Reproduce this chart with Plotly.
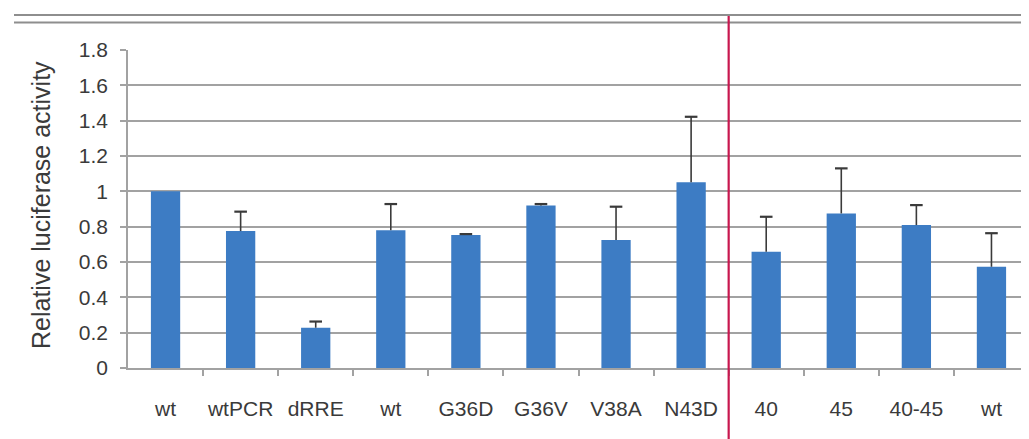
import plotly.graph_objects as go

categories = ["wt", "wtPCR", "dRRE", "wt", "G36D", "G36V", "V38A", "N43D", "40", "45", "40-45", "wt"]
values = [1.0, 0.775, 0.228, 0.78, 0.753, 0.92, 0.724, 1.051, 0.658, 0.875, 0.809, 0.573]
errors = [0.0, 0.11, 0.035, 0.148, 0.005, 0.008, 0.189, 0.371, 0.198, 0.255, 0.113, 0.19]
y_ticks = [0, 0.2, 0.4, 0.6, 0.8, 1, 1.2, 1.4, 1.6, 1.8]
y_tick_text = ["0", "0.2", "0.4", "0.6", "0.8", "1", "1.2", "1.4", "1.6", "1.8"]

positions = list(range(len(categories)))
divider_after = 7  # red line between N43D and 40

# page body has an 8px default margin; size the figure to fill the rest
OFF = 8
W, H = 1029 - OFF, 439 - OFF
L, R, T, B = 128 - OFF, 0, 50 - OFF, 71
pw, ph = W - L - R, H - T - B

font = "Liberation Sans, Arial, sans-serif"
txt = "#3a3a3a"
grid = "#a2a2a2"
err_col = "#3a3a3a"

fig = go.Figure()
fig.add_trace(go.Bar(
    x=positions, y=values,
    marker=dict(color="#3d7cc4", line=dict(width=0)),
    width=0.39,
))

# upper-only error bars (stem + top cap), built from the data arrays
ex, ey, cx, cy = [], [], [], []
for p, v, e in zip(positions, values, errors):
    if e <= 0:
        continue
    ex += [p, p, None]
    ey += [v, v + e, None]
    cx.append(p)
    cy.append(v + e)
fig.add_trace(go.Scatter(x=ex, y=ey, mode="lines",
                         line=dict(color=err_col, width=1.6),
                         hoverinfo="skip"))
fig.add_trace(go.Scatter(x=cx, y=cy, mode="markers",
                         marker=dict(symbol="line-ew", size=9,
                                     line=dict(color=err_col, width=2.2)),
                         hoverinfo="skip"))

fig.update_layout(
    width=W, height=H,
    margin=dict(l=L, r=R, t=T, b=B, pad=0),
    paper_bgcolor="white", plot_bgcolor="white",
    showlegend=False,
    font=dict(family=font, color=txt),
    xaxis=dict(
        range=[-0.5, len(categories) - 0.5],
        tickmode="array", tickvals=positions, ticktext=categories,
        ticks="", tickfont=dict(size=21, family=font, color=txt),
        ticklabelstandoff=21,
        showgrid=False, zeroline=False,
        showline=True, linecolor=grid, linewidth=1.6,
        minor=dict(tickmode="array",
                   tickvals=[p + 0.5 for p in positions[:-1]],
                   ticks="outside", ticklen=6, tickcolor=grid, tickwidth=1.5,
                   showgrid=False),
    ),
    yaxis=dict(
        range=[0, 1.8],
        tickmode="array", tickvals=y_ticks, ticktext=y_tick_text,
        ticks="outside", ticklen=6, tickcolor=grid, tickwidth=1.5,
        tickfont=dict(size=21, family=font, color=txt),
        ticklabelstandoff=8,
        showgrid=True, gridcolor=grid, gridwidth=1.6,
        zeroline=False,
        showline=True, linecolor=grid, linewidth=1.6,
    ),
)

# y-axis title
fig.add_annotation(
    text="Relative luciferase activity", textangle=-90,
    xref="paper", yref="paper",
    x=(41 - 128) / pw, y=(368 - 205) / ph,
    xanchor="center", yanchor="middle", showarrow=False,
    font=dict(size=25, family=font, color=txt),
)

# double border lines at the top
for ypix in (15, 22.5):
    yp = (368 - ypix) / ph
    fig.add_shape(type="line", xref="paper", yref="paper",
                  x0=(14 - 128) / pw, x1=1.0, y0=yp, y1=yp,
                  line=dict(color="#8e8e8e", width=2))

# red divider
fig.add_shape(type="line", xref="x", yref="paper",
              x0=divider_after + 0.5, x1=divider_after + 0.5,
              y0=(368 - 439) / ph, y1=(368 - 16) / ph,
              line=dict(color="#c8174e", width=2.2))

fig.write_html("out.html")
